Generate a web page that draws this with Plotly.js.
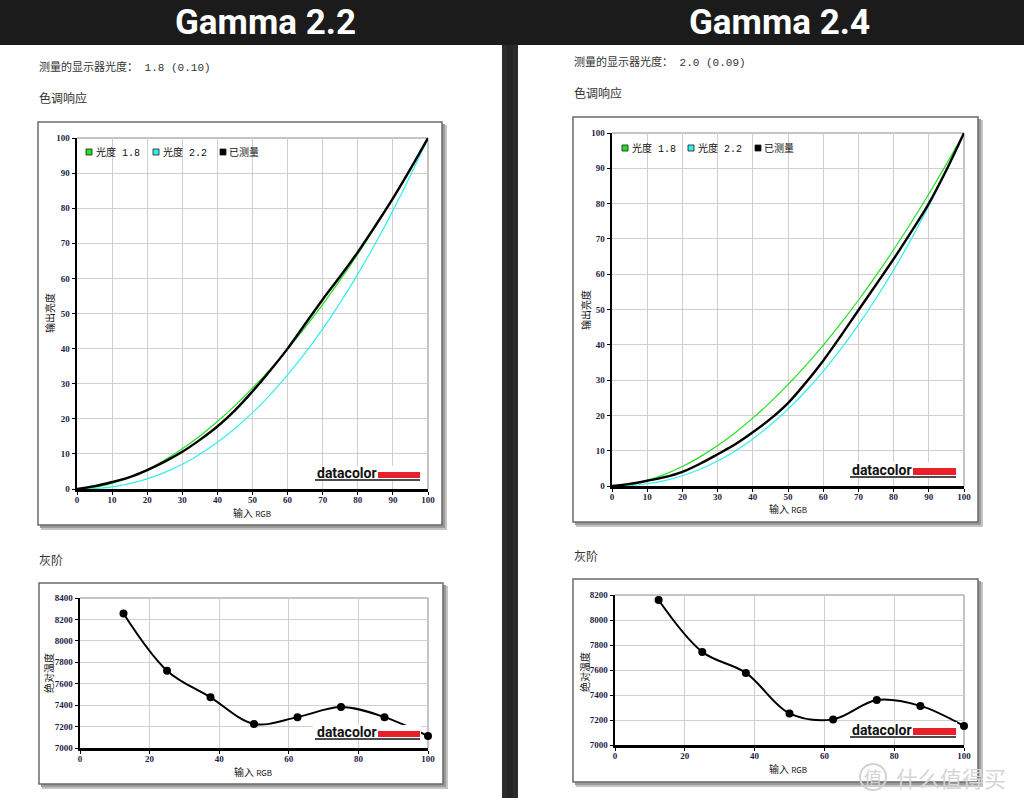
<!DOCTYPE html>
<html><head><meta charset="utf-8">
<script src="https://cdn.plot.ly/plotly-3.0.1.min.js"></script>
<style>html,body{margin:0;padding:0;background:#fff}#c{width:1024px;height:798px}</style>
</head><body><div id="c"></div>
<script>
// ---- data ----
const inputRGB = [0,5,10,15,20,25,30,35,40,45,50,55,60,65,70,75,80,85,90,95,100];
const gamma18 = [0,0.46,1.58,3.29,5.52,8.25,11.45,15.11,19.22,23.76,28.72,34.09,39.87,46.05,52.62,59.58,66.92,74.64,82.72,91.18,100];
const gamma22 = [0,0.14,0.63,1.54,2.90,4.74,7.07,9.93,13.32,17.26,21.76,26.84,32.50,38.76,45.63,53.11,61.21,69.94,79.31,89.33,100];
const measuredLeft = [0,0.8,2.0,3.4,5.4,7.8,10.6,14.0,17.8,22.4,27.8,33.7,40.0,47.0,54.0,60.6,67.5,75.0,82.8,91.2,100];
const measuredRight = [0,0.6,1.5,2.5,4.0,6.3,9.0,11.8,15.2,19.0,23.5,29.2,35.5,42.5,49.8,57.0,64.3,72.0,80.0,89.5,100];
const grayInput = [12.5,25,37.5,50,62.5,75,87.5,100];
const tempLeft = [8255,7722,7473,7225,7288,7382,7288,7112];
const tempRight = [8160,7745,7577,7253,7205,7360,7313,7152];
const panelTitles = ["Gamma 2.2","Gamma 2.4"];
const gammaText = ["测量的显示器光度： 1.8 (0.10)","测量的显示器光度： 2.0 (0.09)"];
const legendNames = ["光度 1.8","光度 2.2","已测量"];
const legendColors = ["#22e022","#33eeee","#000000"];

// ---- layout helpers ----
const W=1024,H=798;
const fx=x=>x/W, fy=y=>1-y/H;
const shapes=[], annotations=[];
function rect(x0,y0,x1,y1,fill,line,lw,layer){shapes.push({type:'rect',xref:'paper',yref:'paper',x0:fx(x0),x1:fx(x1),y0:fy(y1),y1:fy(y0),fillcolor:fill,line:{color:line||fill,width:lw||0},layer:layer||'below'});}
function seg(x0,y0,x1,y1,color,w,layer){shapes.push({type:'line',xref:'paper',yref:'paper',x0:fx(x0),x1:fx(x1),y0:fy(y0),y1:fy(y1),line:{color:color,width:w},layer:layer||'above'});}
function txt(x,y,text,o){o=o||{};annotations.push({xref:'paper',yref:'paper',x:fx(x),y:fy(y),text:text,showarrow:false,xanchor:o.xa||'left',yanchor:o.ya||'middle',textangle:o.angle||0,font:{family:o.family||'Noto Sans CJK SC',size:o.size||12,color:o.color||'#333',weight:o.weight||'normal'},borderpad:0});}

// page chrome
rect(0,0,1024,45,'#1b1b1b');
rect(502,45,518,798,'#2c2c2c');
rect(507,45,513,798,'#262626');
txt(265,22,panelTitles[0],{xa:'center',family:'Roboto',size:35,color:'#fff',weight:'bold'});
txt(779,22,panelTitles[1],{xa:'center',family:'Roboto',size:35,color:'#fff',weight:'bold'});
txt(38,67,gammaText[0],{family:'Liberation Mono, Noto Sans CJK SC',size:11,color:'#333'});
txt(573,62,gammaText[1],{family:'Liberation Mono, Noto Sans CJK SC',size:11,color:'#333'});
txt(38,98,'色调响应',{size:12});
txt(573,93,'色调响应',{size:12});
txt(38,559,'灰阶',{size:12});
txt(573,555,'灰阶',{size:12});

const boxes=[
 {b:[38,122,442,525],p:[77,138,428,489]},
 {b:[573,117,978,522],p:[612,133,964,486]},
 {b:[39,583,443,784],p:[80,598,428,748]},
 {b:[573,579,978,782],p:[615,595,964,745]}
];
boxes.forEach(o=>{
  const [l,t,r,b]=o.b;
  rect(l+3,t+3,r+5,b+5,'#c4c4c4');
  rect(l+2,t+2,r+3,b+3,'#9a9a9a');
  rect(l,t,r,b,'#ffffff','#6a6a6a',1.5);
  const [pl,pt,pr,pb]=o.p;
  seg(pl,pt,pr,pt,'#8a8a8a',1,'below');
  seg(pr,pt,pr,pb,'#8a8a8a',1,'below');
});

// legends (top charts)
const legPos=[[86,152,[95,162,228]],[622,148,[631,697,763]]];
legPos.forEach(lp=>{
  const sq=[lp[2][0]-9,lp[2][1]-9,lp[2][2]-8];
  for(let i=0;i<3;i++){
    rect(sq[i],lp[1]-3,sq[i]+6,lp[1]+3,legendColors[i],'#1a1a1a',0.8,'above');
    txt(lp[2][i],lp[1],legendNames[i],{family:'Liberation Mono, Noto Sans CJK SC',size:10,color:'#111'});
  }
});

// axis titles
[[50,313],[585,310]].forEach(p=>txt(p[0],p[1],'输出亮度',{xa:'center',angle:-90,size:10,color:'#111'}));
[[48,673],[584,672]].forEach(p=>txt(p[0],p[1],'绝对温度',{xa:'center',angle:-90,size:10,color:'#111'}));
[[252,512],[788,508],[253,771],[788,768]].forEach(p=>txt(p[0],p[1],'输入 <span style="font-size:8px">RGB</span>',{xa:'center',size:10,color:'#111'}));

// datacolor logos
[[315,377,378,420,472,478,480],[850,912,913,956,468,475,477],[315,377,378,420,731,737,739],[850,912,913,956,728,735,737]].forEach(g=>{
  const [tl,tr,rl,rr,rt,rb,ul]=g;
  rect(tl-2,rt-6,rr+1,ul+1,'#ffffff','#ffffff',0,'above');
  rect(rl,rt,rr,rb,'#e8202a','#e8202a',0,'above');
  seg(tl,ul,rr,ul,'#111',1.6,'above');
  txt(tr+1,rb-5,'datacolor',{xa:'right',family:'Roboto',size:14,color:'#111',weight:'bold'});
});

// watermark
shapes.push({type:'circle',xref:'paper',yref:'paper',x0:fx(860),x1:fx(886),y0:fy(790),y1:fy(764),line:{color:'#d2d2d2',width:2},layer:'above'});
txt(873,777,'值',{xa:'center',size:18,color:'#d2d2d2'});
txt(895,777,'什么值得买',{size:22,color:'#d6d6d6'});

// ---- axes ----
function axis(p,isX,range,dtick,anchor){
  const d=isX?[fx(p[0]),fx(p[2])]:[fy(p[3]),fy(p[1])];
  return {domain:d,range:range,dtick:dtick,tick0:range[0],anchor:anchor,autorange:false,
    showgrid:true,gridcolor:'#cfcfcf',gridwidth:1,zeroline:false,
    showline:true,linecolor:'#000',linewidth:2.5,ticks:'outside',ticklen:3,tickwidth:1,tickcolor:'#000',
    ticklabelstandoff:isX?-2:0,
    tickfont:{family:'Liberation Serif',size:9,color:'#1d1d44',weight:'bold'},fixedrange:true};
}
const layout={width:W,height:H,margin:{l:0,r:0,t:0,b:0},paper_bgcolor:'#fff',plot_bgcolor:'rgba(0,0,0,0)',showlegend:false,hovermode:false,
  xaxis:axis(boxes[0].p,true,[0,100],10,'y'), yaxis:axis(boxes[0].p,false,[0,100],10,'x'),
  xaxis2:axis(boxes[1].p,true,[0,100],10,'y2'), yaxis2:axis(boxes[1].p,false,[0,100],10,'x2'),
  xaxis3:axis(boxes[2].p,true,[0,100],20,'y3'), yaxis3:axis(boxes[2].p,false,[7000,8400],200,'x3'),
  xaxis4:axis(boxes[3].p,true,[0,100],20,'y4'), yaxis4:axis(boxes[3].p,false,[7000,8200],200,'x4'),
  shapes:shapes, annotations:annotations};
layout.yaxis3.tickformat='d'; layout.yaxis4.tickformat='d';

function curve(y,color,w,xa,ya){return {x:inputRGB,y:y,type:'scatter',mode:'lines',line:{color:color,width:w,shape:'spline'},xaxis:xa,yaxis:ya};}
const data=[
  curve(gamma22,legendColors[1],1.2,'x','y'), curve(gamma18,legendColors[0],1.2,'x','y'), curve(measuredLeft,'#000',2.4,'x','y'),
  curve(gamma22,legendColors[1],1.2,'x2','y2'), curve(gamma18,legendColors[0],1.2,'x2','y2'), curve(measuredRight,'#000',2.4,'x2','y2'),
  {x:grayInput,y:tempLeft,type:'scatter',mode:'lines+markers',line:{color:'#000',width:2,shape:'spline'},marker:{color:'#000',size:8},xaxis:'x3',yaxis:'y3',cliponaxis:false},
  {x:grayInput,y:tempRight,type:'scatter',mode:'lines+markers',line:{color:'#000',width:2,shape:'spline'},marker:{color:'#000',size:8},xaxis:'x4',yaxis:'y4',cliponaxis:false}
];
Plotly.newPlot('c',data,layout,{staticPlot:true,displayModeBar:false});
</script></body></html>
